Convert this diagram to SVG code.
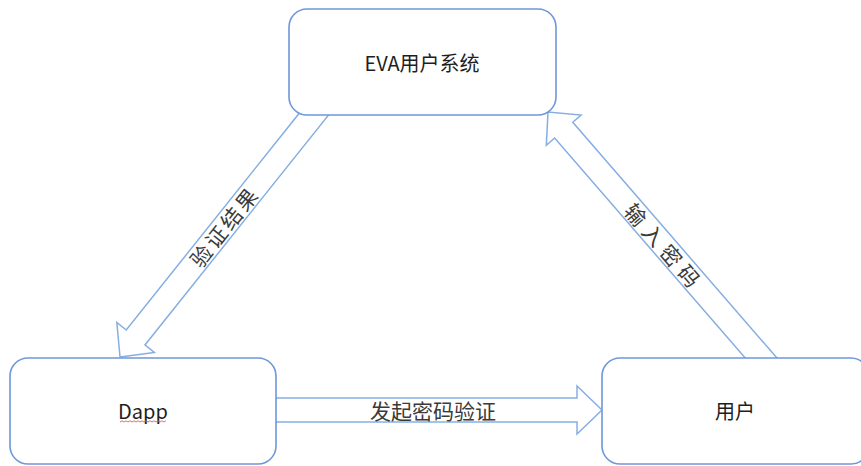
<svg xmlns="http://www.w3.org/2000/svg" width="861" height="466" viewBox="0 0 861 466">
<defs>
<style>
.box{fill:#ffffff;stroke:#6f97d9;stroke-width:1.6}
.arrow{fill:#ffffff;stroke:#86aee3;stroke-width:1.5;stroke-linejoin:miter}
.t{font-family:"Noto Sans CJK SC","Noto Sans",sans-serif;text-anchor:middle;dominant-baseline:central}
.node{font-size:20px;fill:#1e1e1e}
.lbl{font-size:21px;fill:#3a3a3a}
</style>
</defs>
<rect width="861" height="466" fill="#ffffff"/>
<g id="connectors">
<g id="edge-verify-result">
<path class="arrow" transform="translate(120,357) rotate(128.6)" d="M0,0 L-25,-24 L-25,-12 L-320,-12 L-320,12 L-25,12 L-25,24 Z"/>
<text class="t lbl" transform="translate(224,226) rotate(-51.4)" style="letter-spacing:3px">验证结果</text>
</g>
<g id="edge-input-password">
<path class="arrow" transform="translate(548,112) rotate(-130.9)" d="M0,0 L-24,-23 L-24,-12 L-345,-12 L-345,12 L-24,12 L-24,23 Z"/>
<text class="t lbl" transform="translate(665,247) rotate(49.1)" style="letter-spacing:6px">输入密码</text>
</g>
<g id="edge-start-verify">
<path class="arrow" transform="translate(602,410)" d="M0,0 L-25,-24 L-25,-12 L-335,-12 L-335,12 L-25,12 L-25,24 Z"/>
<text class="t lbl" x="433" y="410">发起密码验证</text>
</g>
</g>
<g id="node-eva">
<rect class="box" x="289" y="9" width="267" height="106" rx="18" ry="18"/>
<text class="t node" x="422" y="62">EVA用户系统</text>
</g>
<g id="node-dapp">
<rect class="box" x="10" y="358" width="266" height="106" rx="18" ry="18"/>
<text class="t node" x="143" y="410">Dapp</text>
<path d="M120,422 l2,-1.2 l2,1.2 l2,-1.2 l2,1.2 l2,-1.2 l2,1.2 l2,-1.2 l2,1.2 l2,-1.2 l2,1.2 l2,-1.2 l2,1.2 l2,-1.2 l2,1.2 l2,-1.2 l2,1.2 l2,-1.2 l2,1.2 l2,-1.2 l2,1.2 l2,-1.2 l2,1.2 l2,-1.2" fill="none" stroke="#e05a5a" stroke-width="0.9"/>
</g>
<g id="node-user">
<rect class="box" x="602" y="358" width="267" height="106" rx="18" ry="18"/>
<text class="t node" x="735" y="410">用户</text>
</g>
</svg>
